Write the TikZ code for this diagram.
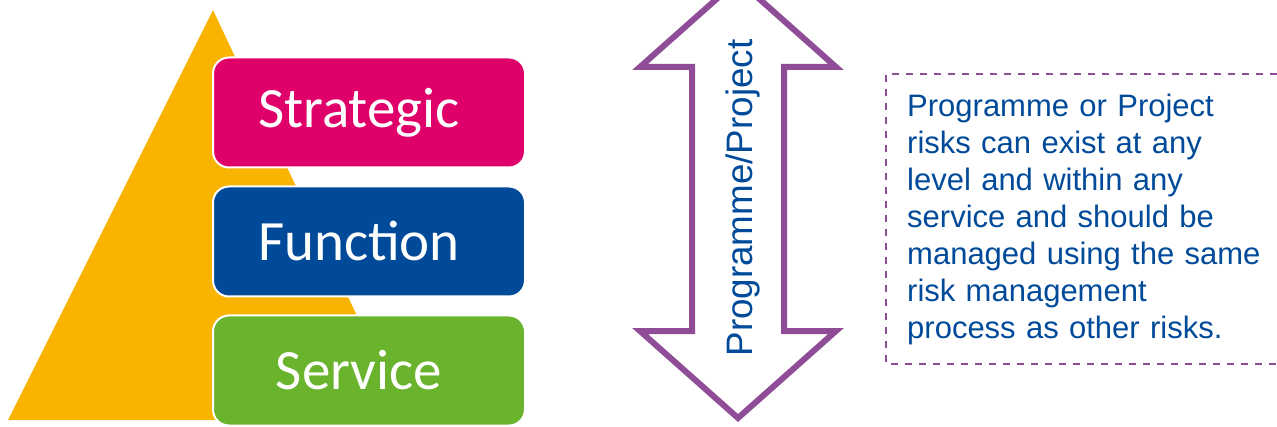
\documentclass[tikz,border=0pt]{standalone}
\usepackage{fontspec}
\setmainfont{Liberation Sans}
\newfontfamily\boxfont{Carlito}
\usepackage{xcolor}
\usepackage{tikz}
\usetikzlibrary{positioning}

\definecolor{pyrorange}{RGB}{248,180,0}
\definecolor{lvlmagenta}{RGB}{224,0,106}
\definecolor{lvlblue}{RGB}{0,74,153}
\definecolor{lvlgreen}{RGB}{106,180,45}
\definecolor{progpurple}{RGB}{143,76,151}

\begin{document}
\begin{tikzpicture}[x=1pt, y=1pt, node distance=17pt,
    level/.style={rectangle, rounded corners=16pt, draw=white, line width=2pt, minimum width=312pt, minimum height=110pt, text=white, font=\boxfont\fontsize{57}{60}\selectfont},
    outline/.style={draw=progpurple, line width=6pt, line join=miter}]
    \useasboundingbox (0,0) rectangle (1277,426);

    % pyramid behind the levels
    \fill[pyrorange] (8,6) -- (213,416) -- (406,6) -- cycle;

    \node[level, fill=lvlmagenta] (strategic) at (369,313.5) {Strategic\hspace*{20pt}};
    \node[level, fill=lvlblue, below=of strategic] (function) {Function\hspace*{20pt}};
    \node[level, fill=lvlgreen, below=of function] (service) {Service\hspace*{20pt}};

    % programme / project double arrow
    \draw[outline] (738,446) -- (836,359) -- (784,359) -- (784,95) -- (836,95) -- (738,8)
        -- (640,95) -- (692,95) -- (692,359) -- (640,359) -- cycle;
    \node[rotate=90, text=lvlblue, font=\fontsize{36.8}{40}\selectfont] (prog) at (743,228) {Programme/Project};

    % note box, open to the right
    \draw[progpurple, line width=2pt, dash pattern=on 7pt off 7pt] (1277,352) -- (886,352) -- (886,62) -- (1277,62);
    \node[anchor=west, text width=375pt, align=left, inner sep=0pt, text=lvlblue, font=\fontsize{31}{37}\selectfont] (note) at (907,207)
        {Programme or Project\\ risks can exist at any\\ level and within any\\ service and should be\\ managed using the same\\ risk management\\ process as other risks.};
\end{tikzpicture}
\end{document}
